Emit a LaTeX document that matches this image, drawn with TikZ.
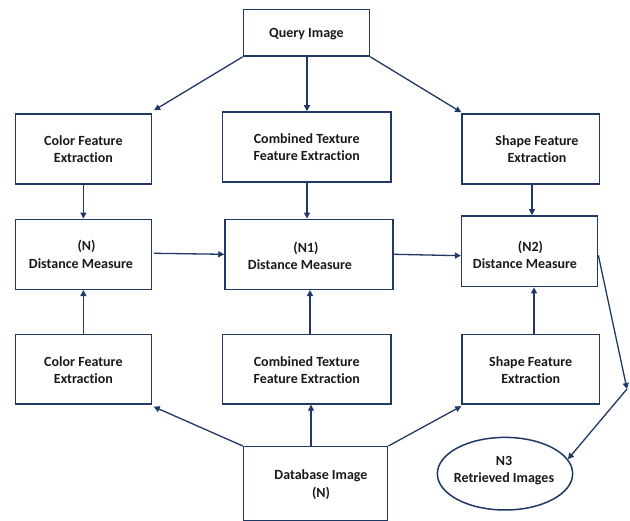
\documentclass[tikz,border=0pt]{standalone}
\usepackage{fontspec}
\setmainfont{Carlito}[Ligatures=NoCommon]
\usetikzlibrary{arrows.meta,shapes.geometric,calc}
\definecolor{navy}{HTML}{1F3864}
\definecolor{txtc}{HTML}{1A1A1A}
\begin{document}
\begin{tikzpicture}[x=1pt,y=-1pt,
  box/.style={draw=navy,line width=1.5pt,inner sep=0pt},
  txt/.style={align=center,font=\fontsize{14}{17.5}\selectfont\bfseries,text=txtc,inner sep=0pt},
  arr/.style={draw=navy,line width=1.3pt,-{Triangle[length=6pt,width=6pt]}}]
\useasboundingbox (0,0) rectangle (630,521);
\fill[white] (0,0) rectangle (630,521);
% boxes
\node[box,minimum width=126pt,minimum height=46.7pt] (q) at (306.5,32.7) {};
\node[box,minimum width=136pt,minimum height=70pt] (ct) at (83.4,149) {};
\node[box,minimum width=168.5pt,minimum height=70pt] (mt) at (306.7,147) {};
\node[box,minimum width=137.4pt,minimum height=70pt] (st) at (530.7,149) {};
\node[box,minimum width=136pt,minimum height=70pt] (n) at (83.4,254.3) {};
\node[box,minimum width=168pt,minimum height=70pt] (n1) at (309,254.3) {};
\node[box,minimum width=136pt,minimum height=70.7pt] (n2) at (529.6,251.3) {};
\node[box,minimum width=136pt,minimum height=69.3pt] (cb) at (83.4,369.3) {};
\node[box,minimum width=168.5pt,minimum height=69.3pt] (mb) at (306.7,369.3) {};
\node[box,minimum width=137.4pt,minimum height=69.3pt] (sb) at (530.7,369.3) {};
\node[box,minimum width=144.2pt,minimum height=74pt] (db) at (315.6,483.7) {};
\node[box,ellipse,minimum width=135.3pt,minimum height=72.6pt] (n3) at (505,473.7) {};
% texts
\node[txt] (tq) at (306.5,34.3) {Query Image};
\node[txt] (tct) at (83.4,149.3) {Color Feature\\Extraction};
\node[txt] (tmt) at (306.7,147) {Combined Texture\\Feature Extraction};
\node[txt] (tst) at (537,149.3) {Shape Feature\\Extraction};
\node[txt] (tn) at (81,254.3) {\hspace*{11pt}(N)\\Distance Measure};
\node[txt] (tn1) at (300,255.7) {\hspace*{12pt}(N1)\\Distance Measure};
\node[txt] (tn2) at (525,254.7) {\hspace*{11pt}(N2)\\Distance Measure};
\node[txt] (tcb) at (83.4,370) {Color Feature\\Extraction};
\node[txt] (tmb) at (306.7,370) {Combined Texture\\Feature Extraction};
\node[txt] (tsb) at (530.7,370) {Shape Feature\\Extraction};
\node[txt] (tdb) at (321,484.8) {Database Image\\(N)};
\node[txt] (tn3) at (504,470.5) {N3\\Retrieved Images};
% helper coordinates
\coordinate (c) at (627,389);
\coordinate (a1) at ($(q.south)+(0.5,0)$);
\coordinate (a2) at ($(mt.south)+(0.3,0)$);
\coordinate (a3) at ($(st.south)+(1.3,0)$);
\coordinate (a4) at ($(n1.south)+(1,0)$);
\coordinate (a5) at ($(sb.north)+(3.3,0)$);
\coordinate (a6) at ($(db.north)+(-4.6,0)$);
% connectors
\draw[arr] (q.south west) -- ($(ct.north east)+(2,-3)$);
\draw[arr] (a1) -- (a1 |- mt.north);
\draw[arr] (q.south east) -- ($(st.north west)+(0,-1)$);
\draw[arr] (ct.south) -- (n.north);
\draw[arr] (a2) -- (a2 |- n1.north);
\draw[arr] (a3) -- (a3 |- n2.north);
\draw[arr] (cb.north) -- (n.south);
\draw[arr] (a4 |- mb.north) -- (a4);
\draw[arr] (a5) -- (a5 |- n2.south);
\draw[arr] ($(n.east)+(2,-1)$) -- (n1.west);
\draw[arr] (n1.east) -- ($(n2.west)+(0,4.4)$);
\draw[arr] ($(n2.east)+(0,4)$) -- (c);
\draw[arr] (c) -- (n3.13);
\draw[arr] (db.north west) -- ($(cb.south east)+(1.5,2)$);
\draw[arr] (a6) -- (a6 |- mb.south);
\draw[arr] (db.north east) -- ($(sb.south west)+(0,1.5)$);
\end{tikzpicture}
\end{document}
